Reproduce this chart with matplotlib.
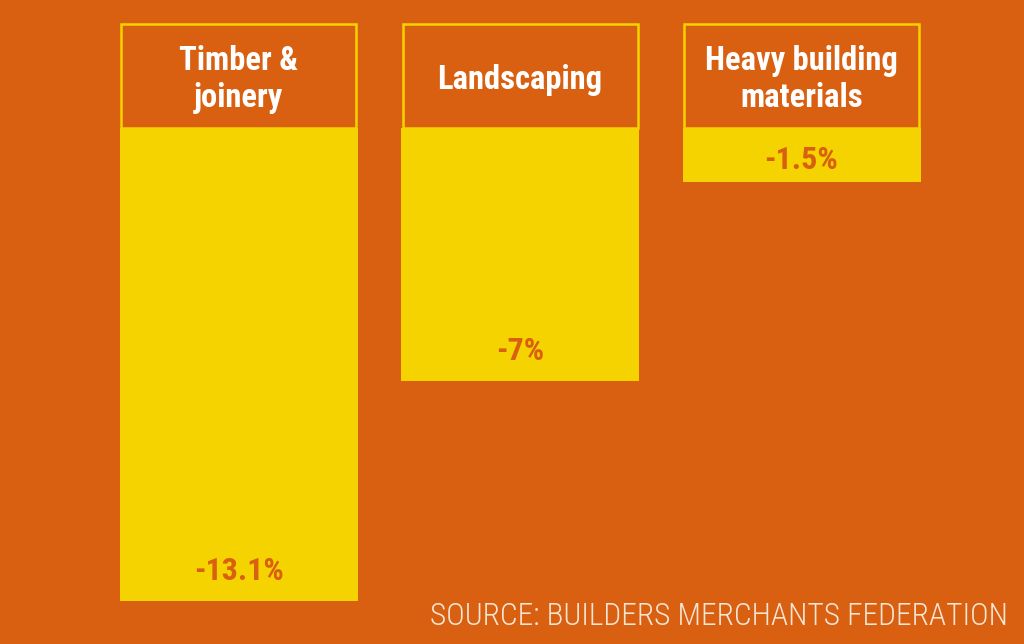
import matplotlib
matplotlib.use("Agg")
import matplotlib.pyplot as plt
from matplotlib import font_manager

categories = ["Timber &\njoinery", "Landscaping", "Heavy building\nmaterials"]
values = [-13.1, -7.0, -1.5]
value_labels = ["-13.1%", "-7%", "-1.5%"]
source = "SOURCE: BUILDERS MERCHANTS FEDERATION"

BG = "#D86010"
YEL = "#F5D300"
WHITE = "#FFFFFF"
SRC_COL = "#F6E6D6"

avail = {f.name for f in font_manager.fontManager.ttflist}
def pick(cands):
    for c in cands:
        if c in avail:
            return c
    return "DejaVu Sans"
cond = pick(["Roboto Condensed", "Liberation Sans Narrow", "Roboto", "DejaVu Sans"])
light = pick(["Roboto Condensed", "Liberation Sans Narrow", "Roboto"])

W, H = 1024, 644
fig = plt.figure(figsize=(W / 100, H / 100), dpi=100, facecolor=BG)
ax = fig.add_axes([0, 0, 1, 1])
ax.set_facecolor(BG)

pxp = 36.1          # pixels per percent
top_px = 128        # pixel row of the zero line
unit = 281.5        # pixels per category
c0 = 238.5
ax.set_xlim(-c0 / unit, (W - c0) / unit)
ax.set_ylim(-(H - top_px) / pxp, top_px / pxp)
ax.axis("off")

x = list(range(len(categories)))
width = 238 / unit
header_h = 104 / pxp

ax.bar(x, values, width=width, color=YEL, edgecolor="none")
ax.bar(x, [header_h] * len(x), bottom=0, width=width - 3 / unit,
       color=BG, edgecolor=YEL, linewidth=1.8)

for xi, cat in zip(x, categories):
    ax.text(xi, header_h / 2 - 3.5 / pxp, cat, ha="center", va="center",
            color=WHITE, fontsize=23.5, fontweight="bold", family=cond,
            linespacing=1.2, multialignment="center")

for xi, v, lab in zip(x, values, value_labels):
    bar_px = -v * pxp
    off = min(21, 0.25 * bar_px) / pxp
    ax.text(xi, v + off, lab, ha="center", va="baseline", color=BG,
            fontsize=23, fontweight="bold", family=cond)

fig.text(1008 / W, 1 - 625 / H, source, ha="right", va="baseline",
         color=SRC_COL, fontsize=22.6, family=light, fontweight="light")

fig.savefig("out.png", dpi=100, facecolor=BG)
